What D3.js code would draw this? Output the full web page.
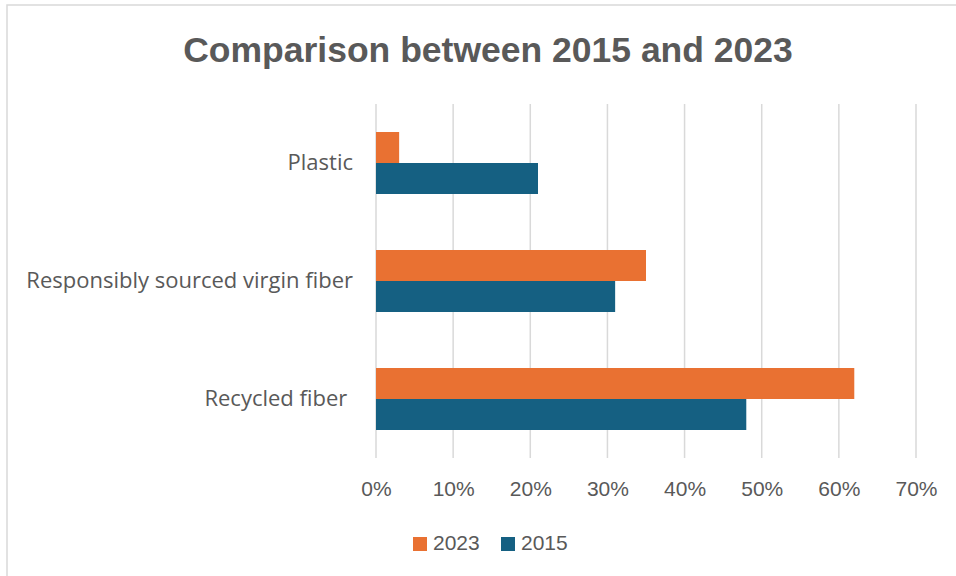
<!DOCTYPE html>
<html>
<head>
<meta charset="utf-8">
<script src="https://cdn.jsdelivr.net/npm/d3@7"></script>
<style>
  html, body { margin: 0; padding: 0; background: #fff; }
  svg { display: block; }
  text { white-space: pre; }
</style>
</head>
<body>
<svg id="chart" width="956" height="576"></svg>
<script>
// Share of materials used, by source
const categories = ["Plastic", "Responsibly sourced virgin fiber", "Recycled fiber "];
const seriesNames = ["2023", "2015"];
const values2023 = [0.03, 0.35, 0.62];
const values2015 = [0.21, 0.31, 0.48];
const tickValues = [0, 0.1, 0.2, 0.3, 0.4, 0.5, 0.6, 0.7];
const title = "Comparison between 2015 and 2023";

const colors = { "2023": "#E97132", "2015": "#156082" };
const textColor = "#595959";
const gridColor = "#D9D9D9";
const labelFont = "'Open Sans', 'Liberation Sans', sans-serif";
const axisFont = "'Liberation Sans', Arial, sans-serif";

const svg = d3.select("#chart");

// chart frame (runs off the right and bottom edges)
svg.append("rect")
  .attr("x", 7).attr("y", 5)
  .attr("width", 980).attr("height", 600)
  .attr("fill", "#fff")
  .attr("stroke", gridColor)
  .attr("stroke-width", 1.5);

const plot = { left: 376, right: 916, top: 104, bottom: 458 };

const x = d3.scaleLinear().domain([0, 0.7]).range([plot.left, plot.right]);
const y = d3.scaleBand()
  .domain(categories)
  .range([plot.top, plot.bottom])
  .paddingInner(0.4746)
  .paddingOuter(0.2373);
const ySeries = d3.scaleBand()
  .domain(seriesNames)
  .range([0, y.bandwidth()]);

// vertical gridlines
svg.append("g")
  .selectAll("line")
  .data(tickValues)
  .join("line")
  .attr("x1", d => x(d)).attr("x2", d => x(d))
  .attr("y1", plot.top).attr("y2", plot.bottom)
  .attr("stroke", gridColor)
  .attr("stroke-width", 1.5);

// bars
const rows = categories.map((c, i) => ({
  category: c,
  bars: [
    { series: "2023", value: values2023[i] },
    { series: "2015", value: values2015[i] }
  ]
}));

const groups = svg.append("g")
  .selectAll("g")
  .data(rows)
  .join("g")
  .attr("transform", d => `translate(0,${y(d.category)})`);

groups.selectAll("rect")
  .data(d => d.bars)
  .join("rect")
  .attr("x", x(0))
  .attr("y", d => ySeries(d.series))
  .attr("width", d => x(d.value) - x(0))
  .attr("height", ySeries.bandwidth())
  .attr("fill", d => colors[d.series]);

// x axis tick labels
const xAxis = d3.axisBottom(x)
  .tickValues(tickValues)
  .tickFormat(d3.format(".0%"))
  .tickSize(0)
  .tickPadding(0);

const gx = svg.append("g")
  .attr("transform", `translate(0,${plot.bottom})`)
  .call(xAxis);
gx.select(".domain").remove();
gx.selectAll("text")
  .attr("dy", null)
  .attr("y", 38)
  .attr("fill", textColor)
  .style("font-family", axisFont)
  .style("font-size", "21px");

// category labels
const yAxis = d3.axisLeft(y).tickSize(0).tickPadding(23);
const gy = svg.append("g")
  .attr("transform", `translate(${plot.left},0)`)
  .call(yAxis);
gy.select(".domain").remove();
gy.selectAll("text")
  .attr("dy", "0.3em")
  .attr("fill", textColor)
  .style("font-family", labelFont)
  .style("font-size", "22px");

// title
svg.append("text")
  .attr("x", 488)
  .attr("y", 62)
  .attr("text-anchor", "middle")
  .attr("fill", textColor)
  .style("font-family", axisFont)
  .style("font-weight", "bold")
  .style("font-size", "35.5px")
  .text(title);

// legend
const legend = svg.append("g");
const legendItems = [
  { name: "2023", x: 413 },
  { name: "2015", x: 501 }
];
legendItems.forEach(item => {
  legend.append("rect")
    .attr("x", item.x).attr("y", 537)
    .attr("width", 14).attr("height", 14)
    .attr("fill", colors[item.name]);
  legend.append("text")
    .attr("x", item.x + 20).attr("y", 550)
    .attr("fill", textColor)
    .style("font-family", axisFont)
    .style("font-size", "21px")
    .text(item.name);
});
</script>
</body>
</html>
